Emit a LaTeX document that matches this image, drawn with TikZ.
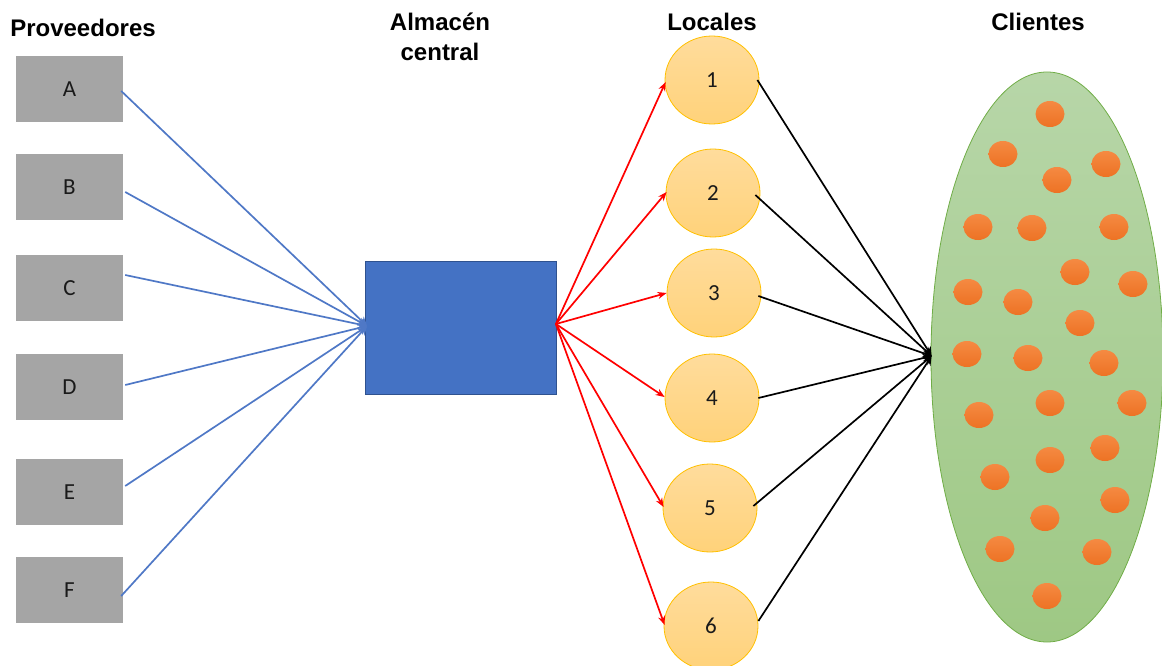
\documentclass[tikz,border=0pt]{standalone}
\usepackage{fontspec}
\setmainfont{Liberation Sans}
\newfontfamily\bodyfont{Carlito}
\usetikzlibrary{arrows.meta,shapes.geometric}
\definecolor{boxgray}{HTML}{A5A5A5}
\definecolor{hubblue}{HTML}{4472C4}
\definecolor{hubedge}{HTML}{2F528F}
\definecolor{feedblue}{HTML}{4F78C6}
\definecolor{ringgold}{HTML}{FFC000}
\definecolor{txtdark}{HTML}{1A1A1A}
\definecolor{dotlight}{HTML}{F58A42}
\definecolor{dotdark}{HTML}{ED7224}
\definecolor{shoptop}{HTML}{FFDC9C}
\definecolor{shopbot}{HTML}{FFD27A}
\definecolor{cloudtop}{HTML}{B7D6A8}
\definecolor{cloudbot}{HTML}{9EC884}
\definecolor{cloudedge}{HTML}{70AD47}
\tikzset{
 x=1pt,y=-1pt,
 supplier/.style={draw=none,fill=boxgray,minimum width=107pt,minimum height=66pt,inner sep=0pt,text=txtdark,font=\bodyfont\fontsize{23}{26}\selectfont},
 shop/.style={ellipse,draw=ringgold,line width=0.8pt,top color=shoptop,bottom color=shopbot,minimum width=94pt,minimum height=88pt,inner sep=0pt,text=txtdark,font=\bodyfont\fontsize{23}{26}\selectfont},
 customer/.style={ellipse,draw=none,top color=dotlight,bottom color=dotdark,minimum width=29pt,minimum height=26pt,inner sep=0pt},
 heading/.style={font=\bfseries\fontsize{24}{29.5}\selectfont,align=center,text=black,inner sep=0pt},
 feed/.style={draw=feedblue,line width=1.7pt,-{Stealth[length=9pt,width=9pt]}},
 ship/.style={draw=red,line width=1.7pt,-{Stealth[length=9pt,width=7pt]}},
 serve/.style={draw=black,line width=1.7pt,-{Stealth[length=9pt,width=9pt]}},
}
\begin{document}
\begin{tikzpicture}
\useasboundingbox (0,0) rectangle (1162,666);
\clip (0,0) rectangle (1162,666);
\node[heading] (hprov) at (83,28) {Proveedores};
\node[heading] (halm) at (440,37) {Almacén\\central};
\node[heading] (hloc) at (712,22) {Locales};
\node[heading] (hcli) at (1038,22) {Clientes};
\node[supplier] (A) at (69.5,89) {A};
\node[supplier] (B) at (69.5,187) {B};
\node[supplier] (C) at (69.5,288) {C};
\node[supplier] (D) at (69.5,387) {D};
\node[supplier] (E) at (69.5,492) {E};
\node[supplier] (F) at (69.5,590) {F};
\node[draw=hubedge,line width=0.8pt,fill=hubblue,minimum width=191pt,minimum height=133pt,inner sep=0pt] (wh) at (461,328) {};
\foreach \n/\cx/\cy in {1/712/80,2/713/193,3/714/293,4/712/398,5/710/508,6/711/626}{
 \node[shop] (s\n) at (\cx,\cy) {\n};
}
\node[ellipse,draw=cloudedge,line width=0.8pt,top color=cloudtop,bottom color=cloudbot,minimum width=232pt,minimum height=570pt,inner sep=0pt] (cloud) at (1047,357) {};
\foreach \i/\cx/\cy in {1/1050/114,2/1003/154,3/1106/164,4/1057/180,5/978/227,6/1032/228,7/1114/227,8/1075/272,9/1133/284,10/968/292,11/1018/302,12/1080/323,13/967/354,14/1028/358,15/1104/363,16/979/415,17/1050/403,18/1132/403,19/1050/460,20/1105/448,21/995/477,22/1115/500,23/1045/518,24/1000/549,25/1097/552,26/1047/596}{
 \node[customer] (k\i) at (\cx,\cy) {};
}
% connectors
\draw[feed] ([shift={(-2,2)}]A.east) -- ([shift={(2,-2)}]wh.west);
\draw[feed] ([shift={(2,5)}]B.east) -- ([shift={(2,-2)}]wh.west);
\draw[feed] ([shift={(2,-13)}]C.east) -- ([shift={(2,-2)}]wh.west);
\draw[feed] ([shift={(2,-2)}]D.east) -- ([shift={(2,-2)}]wh.west);
\draw[feed] ([shift={(2,-6)}]E.east) -- ([shift={(2,-2)}]wh.west);
\draw[feed] ([shift={(-2,6)}]F.east) -- ([shift={(2,-2)}]wh.west);
\foreach \n/\dx/\dy in {1/1/2,2/1/-1,3/0/0,4/0/-1,5/1/-1,6/1/-1}{
 \draw[ship] ([shift={(-1,-4)}]wh.east) -- ([shift={(\dx,\dy)}]s\n.west);
}
\draw[serve] ([shift={(-2,0)}]s1.east) -- ([shift={(1,-1)}]cloud.west);
\draw[serve] ([shift={(-5,2)}]s2.east) -- ([shift={(1,-1)}]cloud.west);
\draw[serve] ([shift={(-3,3)}]s3.east) -- ([shift={(1,-1)}]cloud.west);
\draw[serve] ([shift={(-1,0)}]s4.east) -- ([shift={(1,-1)}]cloud.west);
\draw[serve] ([shift={(-4,-2)}]s5.east) -- ([shift={(1,-1)}]cloud.west);
\draw[serve] ([shift={(0,-5)}]s6.east) -- ([shift={(1,-1)}]cloud.west);
\end{tikzpicture}
\end{document}
